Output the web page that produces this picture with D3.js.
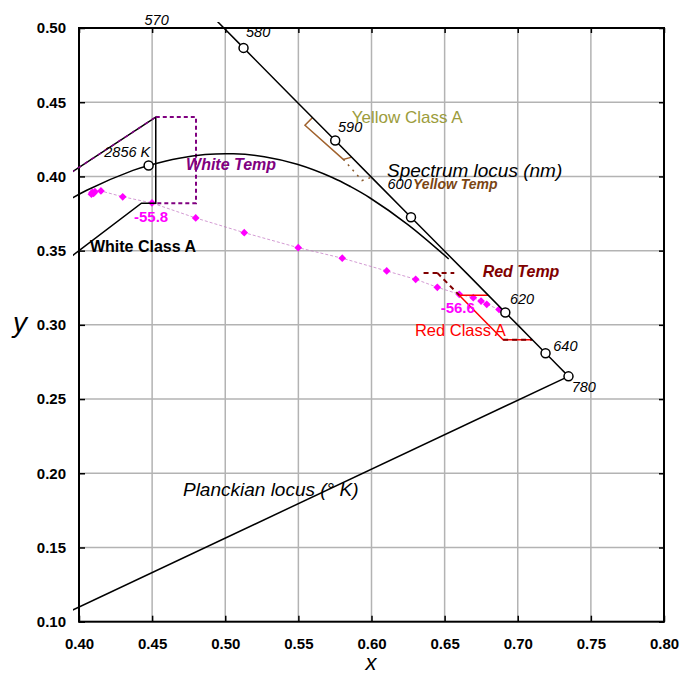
<!DOCTYPE html>
<html>
<head>
<meta charset="utf-8">
<script src="https://cdn.jsdelivr.net/npm/d3@7"></script>
<style>
  html, body { margin: 0; padding: 0; background: #fff; }
  svg { display: block; font-family: "Liberation Sans", Arial, sans-serif; }
</style>
</head>
<body>
<svg id="chart" width="681" height="674"></svg>
<script>
// ---------------- DATA ----------------
const xTicks = [0.40, 0.45, 0.50, 0.55, 0.60, 0.65, 0.70, 0.75, 0.80];
const yTicks = [0.10, 0.15, 0.20, 0.25, 0.30, 0.35, 0.40, 0.45, 0.50];

// Spectrum locus (CIE 1931), wavelength in nm
const locusNm = [570, 575, 580, 585, 590, 595, 600, 605, 610, 615, 620, 625, 630, 635, 640, 645, 650, 700, 780];
const locusX  = [0.4441, 0.4788, 0.5125, 0.5448, 0.5752, 0.6029, 0.6270, 0.6482, 0.6658, 0.6801, 0.6915, 0.7006, 0.7079, 0.7140, 0.7190, 0.7230, 0.7260, 0.7347, 0.7347];
const locusY  = [0.5547, 0.5202, 0.4866, 0.4544, 0.4242, 0.3965, 0.3725, 0.3514, 0.3340, 0.3197, 0.3083, 0.2993, 0.2920, 0.2859, 0.2809, 0.2770, 0.2740, 0.2653, 0.2653];
const markedNm = [570, 580, 590, 600, 620, 640, 780];

// Line of purples: 780 nm to 380 nm
const purpleX = [0.7347, 0.1741];
const purpleY = [0.2653, 0.0050];

// Planckian locus (K)
const planckT = [1000, 1200, 1400, 1500, 1600, 1800, 2000, 2200, 2400, 2600, 2856, 3000, 3500, 4000];
const planckX = [0.6528, 0.6251, 0.5985, 0.5857, 0.5732, 0.5492, 0.5267, 0.5056, 0.4862, 0.4685, 0.4476, 0.4369, 0.4053, 0.3805];
const planckY = [0.3444, 0.3674, 0.3858, 0.3931, 0.3993, 0.4082, 0.4133, 0.4152, 0.4147, 0.4123, 0.4074, 0.4041, 0.3907, 0.3768];
const planckMarkedT = [2856];

// Magenta measured points (dotted path)
const magX = [0.4085, 0.4090, 0.4100, 0.4109, 0.4150, 0.4299, 0.4499, 0.4798, 0.5130, 0.5499, 0.5800, 0.6104, 0.6302, 0.6450, 0.6600, 0.6696, 0.6749, 0.6788, 0.6872];
const magY = [0.3880, 0.3892, 0.3886, 0.3897, 0.3902, 0.3863, 0.3821, 0.3720, 0.3621, 0.3520, 0.3449, 0.3363, 0.3307, 0.3253, 0.3206, 0.3183, 0.3160, 0.3138, 0.3104];

// Boundaries
const whiteAX = [0.39, 0.4525, 0.4525, 0.4427, 0.39];
const whiteAY = [0.3996, 0.4400, 0.3820, 0.3820, 0.3425];
const whiteTempX = [0.4525, 0.48, 0.48, 0.4525];
const whiteTempY = [0.4400, 0.4400, 0.3820, 0.3820];
const whiteTempDiagX = [0.39, 0.4525];
const whiteTempDiagY = [0.3996, 0.4400];

const yellowAX = [0.5597, 0.5545, 0.5807, 0.5865];
const yellowAY = [0.4397, 0.4345, 0.4115, 0.4130];
const yellowTempX = [0.5807, 0.5935, 0.6000];
const yellowTempY = [0.4115, 0.3972, 0.3994];

const redAX = [0.6798, 0.6600, 0.6900, 0.7099];
const redAY = [0.3200, 0.3200, 0.2900, 0.2900];
const redTempTopX = [0.6356, 0.6566];
const redTempTopY = [0.3350, 0.3350];
const redTempDiagX = [0.6450, 0.6600];
const redTempDiagY = [0.3350, 0.3200];
const redTempBotX = [0.6900, 0.7099];
const redTempBotY = [0.2900, 0.2900];

// Text annotations (data coordinates)
const annotations = [
  {t: "570", x: 0.4531, y: 0.5020, a: "middle", cls: "num"},
  {t: "580", x: 0.5142, y: 0.4939, a: "start", cls: "num"},
  {t: "590", x: 0.5771, y: 0.4299, a: "start", cls: "num"},
  {t: "600", x: 0.6275, y: 0.3915, a: "end", cls: "num"},
  {t: "620", x: 0.6947, y: 0.3140, a: "start", cls: "num"},
  {t: "640", x: 0.7243, y: 0.2825, a: "start", cls: "num"},
  {t: "780", x: 0.7369, y: 0.2545, a: "start", cls: "num"},
  {t: "2856 K", x: 0.4173, y: 0.4129, a: "start", cls: "num"},
  {t: "Spectrum locus (nm)", x: 0.6106, y: 0.3997, a: "start", cls: "big"},
  {t: "Planckian locus (° K)", x: 0.4711, y: 0.1850, a: "start", cls: "big"},
  {t: "Yellow Class A", x: 0.5865, y: 0.4362, a: "start", cls: "yellowA"},
  {t: "Yellow Temp", x: 0.6284, y: 0.3915, a: "start", cls: "yellowT"},
  {t: "White Temp", x: 0.4732, y: 0.4043, a: "start", cls: "whiteT"},
  {t: "White Class A", x: 0.4075, y: 0.3493, a: "start", cls: "whiteA"},
  {t: "Red Temp", x: 0.6760, y: 0.3324, a: "start", cls: "redT"},
  {t: "Red Class A", x: 0.6297, y: 0.2925, a: "start", cls: "redA"},
  {t: "-55.8", x: 0.4376, y: 0.3695, a: "start", cls: "mag"},
  {t: "-56.6", x: 0.6473, y: 0.3078, a: "start", cls: "mag"}
];

// ---------------- LAYOUT ----------------
const L = 79, R = 664, T = 28, B = 621.7;
const svg = d3.select("#chart");
const x = d3.scaleLinear().domain([0.40, 0.80]).range([L, R]);
const y = d3.scaleLinear().domain([0.10, 0.50]).range([B, T]);

const zip = (xs, ys) => xs.map((v, i) => [v, ys[i]]);
const line = d3.line().x(d => x(d[0])).y(d => y(d[1]));
const curve = d3.line().x(d => x(d[0])).y(d => y(d[1])).curve(d3.curveCatmullRom.alpha(0.5));

svg.append("defs").append("clipPath").attr("id", "clip")
  .append("rect").attr("x", L - 6).attr("y", T - 6).attr("width", R - L + 7).attr("height", B - T + 7);

// grid
const grid = svg.append("g");
grid.selectAll("line.vx").data(xTicks.slice(1, -1)).join("line")
  .attr("x1", d => x(d)).attr("x2", d => x(d)).attr("y1", T).attr("y2", B)
  .attr("stroke", "#b3b3b3").attr("stroke-width", 1.5);
grid.selectAll("line.hy").data(yTicks.slice(1, -1)).join("line")
  .attr("x1", L).attr("x2", R).attr("y1", d => y(d)).attr("y2", d => y(d))
  .attr("stroke", "#b3b3b3").attr("stroke-width", 1.5);

// axes
const fmt = d3.format(".2f");
const axB = svg.append("g").attr("transform", `translate(0,${B})`)
  .call(d3.axisBottom(x).tickValues(xTicks).tickFormat(fmt).tickSize(-6).tickPadding(17));
const axL = svg.append("g").attr("transform", `translate(${L},0)`)
  .call(d3.axisLeft(y).tickValues(yTicks).tickFormat(fmt).tickSize(-6).tickPadding(13));
const axT = svg.append("g").attr("transform", `translate(0,${T})`)
  .call(d3.axisTop(x).tickValues(xTicks).tickFormat("").tickSize(-5));
const axR = svg.append("g").attr("transform", `translate(${R},0)`)
  .call(d3.axisRight(y).tickValues(yTicks).tickFormat("").tickSize(-5));
[axB, axL, axT, axR].forEach(g => {
  g.select(".domain").remove();
  g.selectAll(".tick line").attr("stroke", "#000").attr("stroke-width", 1.5);
  g.selectAll(".tick text").attr("font-family", "Liberation Sans, Arial, sans-serif")
    .attr("font-size", 15).attr("font-weight", "bold").attr("fill", "#000");
});

// frame
svg.append("rect").attr("x", L).attr("y", T).attr("width", R - L).attr("height", B - T)
  .attr("fill", "none").attr("stroke", "#000").attr("stroke-width", 2);

const plot = svg.append("g").attr("clip-path", "url(#clip)");

// magenta dotted path + diamonds
const mag = zip(magX, magY);
plot.append("path").attr("d", line(mag)).attr("fill", "none")
  .attr("stroke", "#c070c0").attr("stroke-width", 1).attr("stroke-dasharray", "3,2").attr("opacity", 0.7);
plot.selectAll("path.dia").data(mag).join("path")
  .attr("d", d3.symbol(d3.symbolSquare, 30)())
  .attr("transform", d => `translate(${x(d[0])},${y(d[1])}) rotate(45)`)
  .attr("fill", "#ff00ff");

// White class A (black) and white temp (purple dashed)
plot.append("path").attr("d", line(zip(whiteAX, whiteAY))).attr("fill", "none")
  .attr("stroke", "#000").attr("stroke-width", 1.5);
plot.append("path").attr("d", line(zip(whiteTempX, whiteTempY))).attr("fill", "none")
  .attr("stroke", "#800080").attr("stroke-width", 2).attr("stroke-dasharray", "4,3");
plot.append("path").attr("d", line(zip(whiteTempDiagX, whiteTempDiagY))).attr("fill", "none")
  .attr("stroke", "#800080").attr("stroke-width", 1.5).attr("stroke-dasharray", "4,4");

// Yellow
plot.append("path").attr("d", line(zip(yellowAX, yellowAY))).attr("fill", "none")
  .attr("stroke", "#a0622d").attr("stroke-width", 1.5);
plot.append("path").attr("d", line(zip(yellowTempX, yellowTempY))).attr("fill", "none")
  .attr("stroke", "#8b5a2b").attr("stroke-width", 1.5).attr("stroke-dasharray", "2,5");

// Red
plot.append("path").attr("d", line(zip(redAX, redAY))).attr("fill", "none")
  .attr("stroke", "#ff0000").attr("stroke-width", 1.5);
[[redTempTopX, redTempTopY], [redTempDiagX, redTempDiagY], [redTempBotX, redTempBotY]].forEach(([xs, ys]) => {
  plot.append("path").attr("d", line(zip(xs, ys))).attr("fill", "none")
    .attr("stroke", "#800000").attr("stroke-width", 2).attr("stroke-dasharray", "5,4");
});

// Planckian locus
plot.append("path").attr("d", curve(zip(planckX, planckY))).attr("fill", "none")
  .attr("stroke", "#000").attr("stroke-width", 1.5);

// Spectrum locus + line of purples
plot.append("path").attr("d", line(zip(locusX, locusY))).attr("fill", "none")
  .attr("stroke", "#000").attr("stroke-width", 1.5);
plot.append("path").attr("d", line(zip(purpleX, purpleY))).attr("fill", "none")
  .attr("stroke", "#000").attr("stroke-width", 1.5);

// circle markers
const locusMarks = markedNm.map(nm => { const i = locusNm.indexOf(nm); return [locusX[i], locusY[i]]; });
const planckMarks = planckMarkedT.map(t => { const i = planckT.indexOf(t); return [planckX[i], planckY[i]]; });
plot.selectAll("circle.m").data(locusMarks.concat(planckMarks)).join("circle")
  .attr("cx", d => x(d[0])).attr("cy", d => y(d[1])).attr("r", 4.5)
  .attr("fill", "#fff").attr("stroke", "#000").attr("stroke-width", 1.5);

// annotations
const styles = {
  num:     {size: 14.5, style: "italic", weight: "normal", fill: "#000"},
  big:     {size: 19, style: "italic", weight: "normal", fill: "#000"},
  yellowA: {size: 17, style: "normal", weight: "normal", fill: "#9c9c3c"},
  yellowT: {size: 14, style: "italic", weight: "bold", fill: "#7a4513"},
  whiteT:  {size: 16, style: "italic", weight: "bold", fill: "#800080"},
  whiteA:  {size: 16, style: "normal", weight: "bold", fill: "#000"},
  redT:    {size: 16, style: "italic", weight: "bold", fill: "#800000"},
  redA:    {size: 16.5, style: "normal", weight: "normal", fill: "#ff0000"},
  mag:     {size: 15, style: "normal", weight: "bold", fill: "#ff00ff"}
};
svg.append("g").selectAll("text").data(annotations).join("text")
  .attr("x", d => x(d.x)).attr("y", d => y(d.y)).attr("text-anchor", d => d.a)
  .attr("font-size", d => styles[d.cls].size).attr("font-style", d => styles[d.cls].style)
  .attr("font-weight", d => styles[d.cls].weight).attr("fill", d => styles[d.cls].fill)
  .text(d => d.t);

// axis titles
svg.append("text").attr("x", 371).attr("y", 670).attr("text-anchor", "middle")
  .attr("font-size", 22).attr("font-style", "italic").text("x");
svg.append("text").attr("x", 20).attr("y", 332).attr("text-anchor", "middle")
  .attr("font-size", 28).attr("font-style", "italic").text("y");
</script>
</body>
</html>
